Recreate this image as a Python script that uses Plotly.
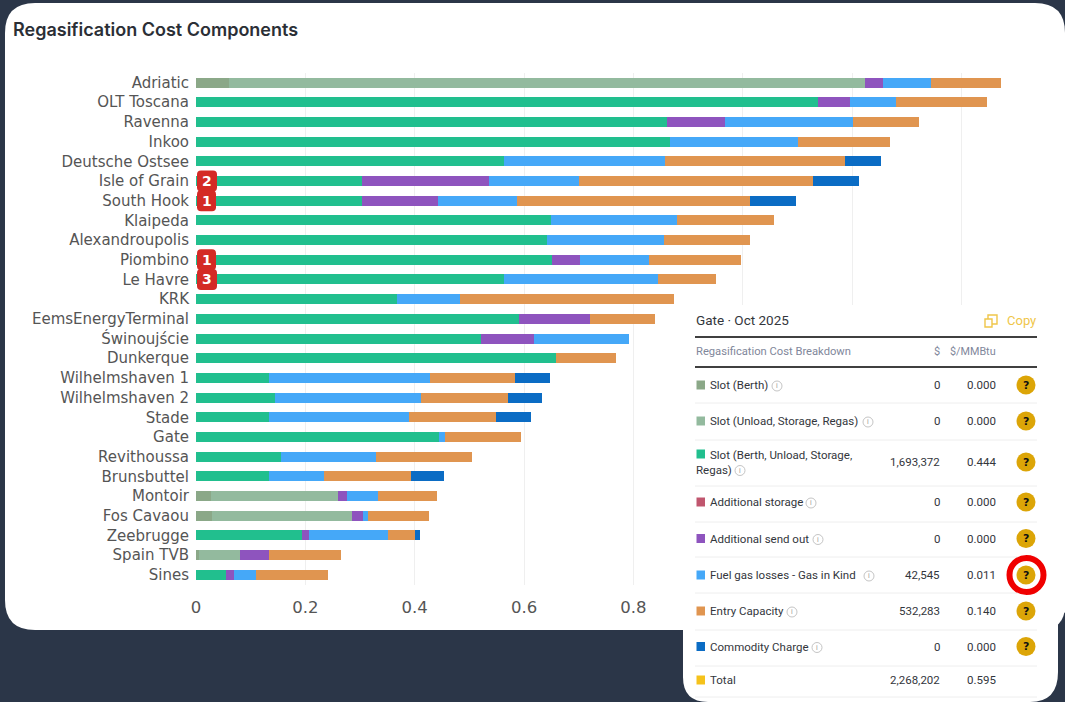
import plotly.graph_objects as go

terminals = ["Adriatic","OLT Toscana","Ravenna","Inkoo","Deutsche Ostsee","Isle of Grain","South Hook","Klaipeda",
             "Alexandroupolis","Piombino","Le Havre","KRK","EemsEnergyTerminal","Świnoujście","Dunkerque",
             "Wilhelmshaven 1","Wilhelmshaven 2","Stade","Gate","Revithoussa","Brunsbuttel","Montoir","Fos Cavaou",
             "Zeebrugge","Spain TVB","Sines"]
slot_berth    = [.061,0,0,0,0,0,0,0,0,0,0,0,0,0,0,0,0,0,0,0,0,.028,.030,0,.006,0]
slot_unload   = [1.162,0,0,0,0,0,0,0,0,0,0,0,0,0,0,0,0,0,0,0,0,.231,.256,0,.075,0]
slot_combined = [0,1.137,.861,.866,.563,.303,.303,.649,.641,.651,.563,.367,.590,.522,.658,.133,.145,.133,.444,.155,.133,0,0,.193,0,.054]
add_storage   = [0]*26
add_sendout   = [.033,.059,.106,0,0,.232,.139,0,0,.051,0,0,.130,.097,0,0,0,0,0,0,0,.018,.020,.013,.053,.016]
fuel_gas      = [.088,.084,.234,.235,.295,.165,.145,.231,.214,.126,.282,.115,0,.172,0,.295,.267,.256,.011,.174,.101,.055,.009,.146,0,.039]
entry_cap     = [.128,.167,.121,.168,.328,.428,.426,.177,.159,.168,.106,.392,.119,0,.110,.155,.159,.159,.140,.176,.159,.108,.111,.048,.132,.132]
commodity     = [0,0,0,0,.066,.084,.084,0,0,0,0,0,0,0,0,.064,.062,.064,0,0,.061,0,0,.009,0,0]

tick_vals = [0, 0.2, 0.4, 0.6, 0.8, 1.0, 1.2, 1.4]
tick_text = ["0", "0.2", "0.4", "0.6", "0.8", "", "", ""]

series_names = ["Slot (Berth)","Slot (Unload, Storage, Regas)","Slot (Berth, Unload, Storage, Regas)",
                "Additional storage","Additional send out","Fuel gas losses - Gas in Kind","Entry Capacity","Commodity Charge"]
series_vals = [slot_berth,slot_unload,slot_combined,add_storage,add_sendout,fuel_gas,entry_cap,commodity]
series_cols = ["#8BA888","#93BA9E","#21BF8E","#C0566E","#8E54BE","#45A8F8","#E09550","#0B6CC4"]

badge_terminals = ["Isle of Grain","South Hook","Piombino","Le Havre"]
badge_labels = ["2","1","1","3"]

table_title = "Gate · Oct 2025"
table_labels = ["Slot (Berth)","Slot (Unload, Storage, Regas)","Slot (Berth, Unload, Storage,<br>Regas)",
                "Additional storage","Additional send out","Fuel gas losses - Gas in Kind","Entry Capacity","Commodity Charge","Total"]
table_usd = ["0","0","1,693,372","0","0","42,545","532,283","0","2,268,202"]
table_mmbtu = ["0.000","0.000","0.444","0.000","0.000","0.011","0.140","0.000","0.595"]
table_cols = series_cols + ["#F5C21B"]

W, H = 1065, 702
X0, X_UNIT = 196, 546.8
XMAX = 1.5
TOP, BOT = 72.7, 584.7
px = lambda x: x / W
py = lambda y: 1 - y / H
def pt(x, y): return f"{px(x):.5f},{py(y):.5f}"

def rrect(x0, y0, x1, y1, r):
    return (f"M{pt(x0+r,y0)} L{pt(x1-r,y0)} Q{pt(x1,y0)} {pt(x1,y0+r)} L{pt(x1,y1-r)} Q{pt(x1,y1)} {pt(x1-r,y1)} "
            f"L{pt(x0+r,y1)} Q{pt(x0,y1)} {pt(x0,y1-r)} L{pt(x0,y0+r)} Q{pt(x0,y0)} {pt(x0+r,y0)} Z")

fig = go.Figure()
for n, v, c in zip(series_names, series_vals, series_cols):
    fig.add_bar(y=terminals, x=v, name=n, orientation="h", marker=dict(color=c, line=dict(width=0)))

shapes, ann = [], []
def path(d, fill, layer="above", line=None):
    shapes.append(dict(type="path", xref="paper", yref="paper", path=d, fillcolor=fill, layer=layer,
                       line=line or dict(width=0)))
def hline(x0, x1, y, col, w=1):
    shapes.append(dict(type="line", xref="paper", yref="paper", x0=px(x0), x1=px(x1), y0=py(y), y1=py(y),
                       line=dict(color=col, width=w), layer="above"))
def circle(cx, cy, r, fill, line=None):
    shapes.append(dict(type="circle", xref="paper", yref="paper", x0=px(cx-r), x1=px(cx+r), y0=py(cy+r), y1=py(cy-r),
                       fillcolor=fill, line=line or dict(width=0), layer="above"))
def text(x, y, s, size=11, col="#333", anchor="left", family="Roboto", weight=None):
    ann.append(dict(xref="paper", yref="paper", x=px(x), y=py(y), text=s, showarrow=False, xanchor=anchor, yanchor="middle",
                    align=anchor, font=dict(size=size, color=col, family=family, weight=weight), borderpad=0, borderwidth=0))

# main white panel
path(f"M{pt(5,33)} Q{pt(5,3)} {pt(35,3)} L{pt(1035,3)} Q{pt(1065,3)} {pt(1065,33)} L{pt(1065,605)} Q{pt(1065,630)} {pt(1040,630)} "
     f"L{pt(35,630)} Q{pt(5,630)} {pt(5,600)} Z", "#FFFFFF", layer="below")
# table white panel
path(f"M{pt(683,305)} L{pt(1065,305)} L{pt(1065,612)} L{pt(1058,622)} L{pt(1058,672)} Q{pt(1058,702)} {pt(1030,702)} "
     f"L{pt(708,702)} Q{pt(683,702)} {pt(683,677)} Z", "#FFFFFF")

text(13, 30, "Regasification Cost Components", size=18, col="#2b2f36", family="Inter", weight=600)

# badges
row_h = (BOT - TOP) / len(terminals)
badge_w = [20, 19, 19, 20]
for t, lab, bw in zip(badge_terminals, badge_labels, badge_w):
    cy = TOP + (terminals.index(t) + .5) * row_h
    path(rrect(197, cy-10.5, 197+bw, cy+10.5, 4), "#D42A25")
    text(197+bw/2, cy, lab, size=14, col="#FFFFFF", anchor="center", family="DejaVu Sans", weight=700)

# table
INK = "#33363C"
text(696, 320, table_title, size=13.5, col=INK)
gold = "#EFC64A"
shapes.append(dict(type="rect", xref="paper", yref="paper", x0=px(988), x1=px(997), y0=py(324), y1=py(315), line=dict(color=gold, width=1.4), layer="above"))
shapes.append(dict(type="rect", xref="paper", yref="paper", x0=px(985), x1=px(992), y0=py(327), y1=py(319), line=dict(color=gold, width=1.4), fillcolor="#FFFFFF", layer="above"))
text(1035.5, 321, "Copy", size=13, col=gold, anchor="right")
hline(695, 1037, 337, "#000000", 1.6)
text(696, 351, "Regasification Cost Breakdown", size=11.2, col="#7F879B")
text(940, 351, "$", size=11, col="#7F879B", anchor="right")
text(996, 351, "$/MMBtu", size=10.8, col="#7F879B", anchor="right")
hline(695, 1037, 367, "#000000", 1.6)

row_y = [385, 421, 462, 502, 538.5, 575, 611, 646.5, 680]
sep_y = [403, 440, 486, 522, 557, 593, 630, 666, 697]
swatch_y = [385, 421, 454, 502, 538.5, 575, 611, 646.5, 680]
info_xy = [(777,386),(868,422),(740,470.5),(811,503),(818,539.5),(869,576),(792,612),(817,647.5)]
for y in sep_y:
    hline(695, 1037, y, "#EEEEEE", 1)
for i, lab in enumerate(table_labels):
    sy = swatch_y[i]
    shapes.append(dict(type="rect", xref="paper", yref="paper", x0=px(696.5), x1=px(705), y0=py(sy+4.5), y1=py(sy-4.5),
                       fillcolor=table_cols[i], line=dict(width=0), layer="above"))
    if "<br>" in lab:
        a, b = lab.split("<br>")
        text(710, 455, a, size=11.5, col=INK)
        text(696, 470, b, size=11.5, col=INK)
    else:
        text(710, row_y[i], lab, size=11.5, col=INK)
    text(940, row_y[i], table_usd[i], size=11.5, col=INK, anchor="right")
    text(996, row_y[i], table_mmbtu[i], size=11.5, col=INK, anchor="right")
    if i < 8:
        ix, iy = info_xy[i]
        circle(ix, iy, 5, "#FFFFFF", dict(color="#B5B5B5", width=0.8))
        text(ix, iy, "i", size=7, col="#999999", anchor="center")
        circle(1026, row_y[i], 9.5, "#DCA507")
        text(1026, row_y[i], "?", size=11, col="#111111", anchor="center", family="DejaVu Sans", weight=700)
circle(1026.5, 575, 17, "rgba(0,0,0,0)", dict(color="#F00000", width=6))

fig.update_layout(
    width=W, height=H, margin=dict(l=0, r=0, t=0, b=0), autosize=False,
    paper_bgcolor="#2B3648", plot_bgcolor="rgba(0,0,0,0)", barmode="stack", bargap=0.49, showlegend=False,
    shapes=shapes, annotations=ann,
    xaxis=dict(domain=[px(X0), px(X0 + XMAX * X_UNIT)], range=[0, XMAX], tickmode="array", tickvals=tick_vals, ticktext=tick_text,
               showgrid=True, gridcolor="#EFEFEF",
               gridwidth=1, zeroline=False, showline=False, ticks="outside", ticklen=7, tickcolor="rgba(0,0,0,0)",
               tickfont=dict(family="DejaVu Sans", size=16.5, color="#555555"), automargin=False),
    yaxis=dict(domain=[py(BOT), py(TOP)], autorange="reversed", type="category", showgrid=False, zeroline=False, showline=False,
               ticks="outside", ticklen=3, tickcolor="rgba(0,0,0,0)", tickfont=dict(family="DejaVu Sans", size=15, color="#555555"),
               automargin=False),
)
fig.write_html("out.html", config=dict(displayModeBar=False),
               post_script="document.body.style.margin='0';document.body.style.overflow='hidden';")
